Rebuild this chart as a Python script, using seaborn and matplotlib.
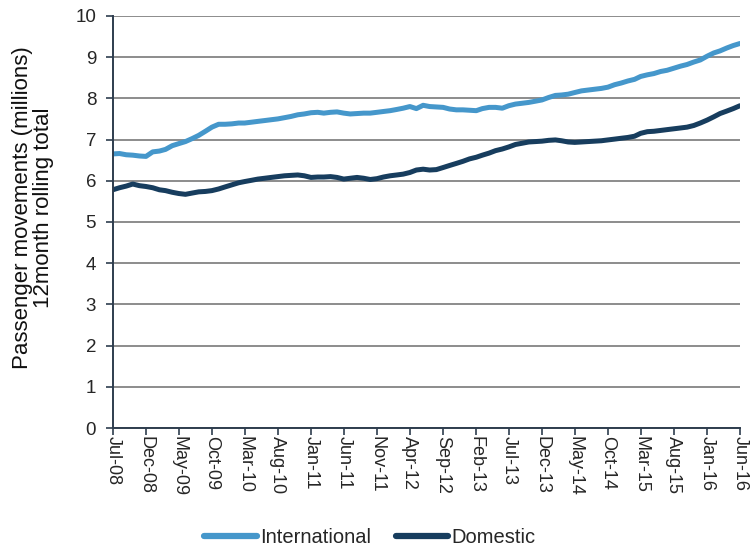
import matplotlib
matplotlib.use("Agg")
import matplotlib.pyplot as plt
import matplotlib.dates as mdates
import seaborn as sns
import numpy as np
import pandas as pd

# monthly 12-month rolling totals, Jul-08 .. Jun-16 (millions)
months = pd.date_range("2008-07-01", periods=96, freq="MS")

international = [
    6.65, 6.66, 6.63, 6.62, 6.60, 6.59, 6.70, 6.72, 6.76, 6.85,
    6.90, 6.95, 7.02, 7.10, 7.20, 7.30, 7.37, 7.37, 7.38, 7.40,
    7.40, 7.42, 7.44, 7.46, 7.48, 7.50, 7.53, 7.56, 7.60, 7.62,
    7.65, 7.66, 7.64, 7.66, 7.67, 7.64, 7.62, 7.63, 7.64, 7.64,
    7.66, 7.68, 7.70, 7.73, 7.76, 7.80, 7.75, 7.83, 7.80, 7.79,
    7.78, 7.74, 7.72, 7.72, 7.71, 7.70, 7.75, 7.78, 7.78, 7.76,
    7.82, 7.86, 7.88, 7.90, 7.93, 7.96, 8.02, 8.07, 8.08, 8.10,
    8.14, 8.18, 8.20, 8.22, 8.24, 8.27, 8.33, 8.37, 8.42, 8.46,
    8.53, 8.57, 8.60, 8.65, 8.68, 8.73, 8.78, 8.82, 8.88, 8.93,
    9.02, 9.10, 9.15, 9.22, 9.28, 9.33,
]

domestic = [
    5.78, 5.83, 5.87, 5.92, 5.88, 5.86, 5.83, 5.78, 5.76, 5.72,
    5.69, 5.67, 5.70, 5.73, 5.74, 5.76, 5.80, 5.85, 5.90, 5.95,
    5.98, 6.01, 6.04, 6.06, 6.08, 6.10, 6.12, 6.13, 6.14, 6.12,
    6.08, 6.09, 6.09, 6.10, 6.08, 6.04, 6.06, 6.08, 6.06, 6.03,
    6.05, 6.09, 6.12, 6.14, 6.16, 6.20, 6.26, 6.28, 6.26, 6.27,
    6.32, 6.37, 6.42, 6.47, 6.53, 6.57, 6.62, 6.67, 6.73, 6.77,
    6.82, 6.88, 6.91, 6.94, 6.95, 6.96, 6.98, 6.99, 6.97, 6.94,
    6.93, 6.94, 6.95, 6.96, 6.97, 6.99, 7.01, 7.03, 7.05, 7.08,
    7.15, 7.19, 7.20, 7.22, 7.24, 7.26, 7.28, 7.30, 7.34, 7.40,
    7.47, 7.55, 7.63, 7.69, 7.75, 7.82,
]

series_names = ["International", "Domestic"]
colors = {"International": "#4597CB", "Domestic": "#173D5E"}

df = pd.DataFrame({"month": months, "International": international, "Domestic": domestic})
long_df = df.melt(id_vars="month", value_vars=series_names, var_name="series", value_name="value")

sns.set_style("white")
plt.rcParams["font.family"] = ["Liberation Sans", "DejaVu Sans"]

fig = plt.figure(figsize=(7.52, 5.51), dpi=100)
ax = fig.add_axes([0.150, 0.2232, 0.834, 0.748])

sns.lineplot(data=long_df, x="month", y="value", hue="series", hue_order=series_names,
             palette=colors, linewidth=3.6, ax=ax, legend=False)

# axes styling
axis_col = "#2E3D4E"
ax.set_ylim(0, 10)
ax.set_yticks(range(0, 11))
ax.set_xlim(months[0], months[-1])
ax.set_xticks(months[::5])
ax.xaxis.set_major_formatter(mdates.DateFormatter("%b-%y"))
ax.tick_params(axis="x", rotation=-90, labelsize=13, length=5, width=1.2,
               color=axis_col, direction="out", bottom=True, pad=0.5)
ax.tick_params(axis="y", labelsize=13.5, length=5, width=1.2,
               color=axis_col, direction="out", left=True, pad=7)
for lab in ax.get_xticklabels():
    lab.set_ha("center")
    lab.set_va("top")
ax.grid(axis="y", color="#8C8C8C", linewidth=1.4)
ax.grid(axis="x", visible=False)
ax.set_axisbelow(True)
for side in ["top", "right"]:
    ax.spines[side].set_visible(False)
for side in ["left", "bottom"]:
    ax.spines[side].set_color(axis_col)
    ax.spines[side].set_linewidth(1.4)

ax.set_xlabel("")
ax.set_ylabel("Passenger movements (millions)\n12month rolling total", fontsize=16,
              color="#111111", linespacing=1.0)
ax.yaxis.set_label_coords(-0.094, 0.535)

# legend at bottom
handles = [plt.Line2D([], [], color=colors[n], linewidth=4.5, solid_capstyle="round") for n in series_names]
fig.legend(handles, series_names, loc="center", bbox_to_anchor=(0.492, 0.025), ncol=2,
           frameon=False, fontsize=14.5, handlelength=2.6, handletextpad=0.15, columnspacing=1.25)

fig.savefig("out.png", dpi=100)
